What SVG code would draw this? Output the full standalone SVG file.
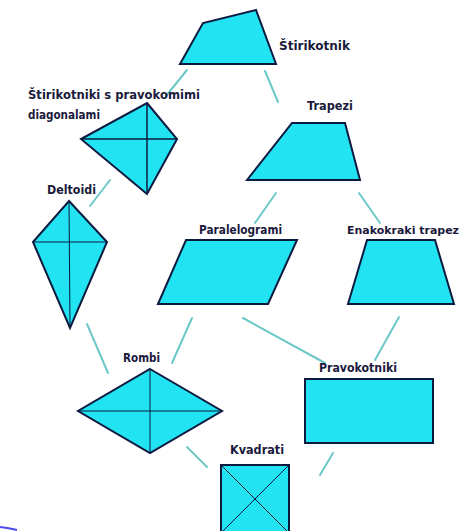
<svg xmlns="http://www.w3.org/2000/svg" width="465" height="531" viewBox="0 0 465 531">
<style>
.s{fill:#22e3f2;stroke:#0d1a40;stroke-width:2;stroke-linejoin:miter}
.d{stroke:#0d1a40;stroke-width:1;fill:none}
.c line{stroke:#6cc8c8;stroke-width:2;stroke-linecap:round}
text{font-family:"DejaVu Sans","Liberation Sans",sans-serif;font-size:12px;font-weight:bold;fill:#1a1a3c}
</style>
<rect width="465" height="531" fill="#ffffff"/>
<g class="c" id="connectors">
<line x1="187" y1="70" x2="166" y2="96"/>
<line x1="265" y1="71" x2="278" y2="102"/>
<line x1="110" y1="180" x2="90" y2="206"/>
<line x1="276" y1="193" x2="255" y2="223"/>
<line x1="359" y1="193" x2="380" y2="223"/>
<line x1="87" y1="324" x2="108" y2="373"/>
<line x1="192" y1="318" x2="172" y2="363"/>
<line x1="243" y1="318" x2="325" y2="363"/>
<line x1="399" y1="317" x2="375" y2="360"/>
<line x1="187" y1="447" x2="207" y2="467"/>
<line x1="333" y1="453" x2="320" y2="475"/>
</g>
<g id="stirikotnik">
<polygon class="s" points="180,64 203,23 256,10 276,64"/>
<text x="279" y="50" textLength="71" lengthAdjust="spacingAndGlyphs">Štirikotnik</text>
</g>
<g id="pravokotne-diagonale">
<text x="28" y="99" textLength="172" lengthAdjust="spacingAndGlyphs">Štirikotniki s pravokomimi</text>
<text x="28" y="119" textLength="72" lengthAdjust="spacingAndGlyphs">diagonalami</text>
<polygon class="s" points="147,103 177,139 147,194 81,139"/>
<line class="d" x1="81" y1="139" x2="177" y2="139" style="stroke-width:1.5"/>
<line class="d" x1="147" y1="103" x2="147" y2="194" style="stroke-width:1.5"/>
</g>
<g id="trapezi">
<text x="307" y="110" textLength="46" lengthAdjust="spacingAndGlyphs">Trapezi</text>
<polygon class="s" points="247,180 292,123 345,123 360,180"/>
</g>
<g id="deltoidi">
<text x="47" y="194" textLength="49" lengthAdjust="spacingAndGlyphs">Deltoidi</text>
<polygon class="s" points="69,201 107,242 70,328 33,242"/>
<line class="d" x1="33" y1="242" x2="107" y2="242"/>
<line class="d" x1="69" y1="201" x2="70" y2="328"/>
</g>
<g id="paralelogrami">
<text x="199" y="234" textLength="83" lengthAdjust="spacingAndGlyphs">Paralelogrami</text>
<polygon class="s" points="158,304 186,240 297,240 268,304"/>
</g>
<g id="enakokraki-trapez">
<text x="347" y="234" style="font-size:10.5px" textLength="112" lengthAdjust="spacingAndGlyphs">Enakokraki trapez</text>
<polygon class="s" points="348,304 367,240 435,240 454,304"/>
</g>
<g id="rombi">
<text x="123" y="362" textLength="37" lengthAdjust="spacingAndGlyphs">Rombi</text>
<polygon class="s" points="150,369 222,411 150,453 78,411"/>
<line class="d" x1="78" y1="411" x2="222" y2="411"/>
<line class="d" x1="150" y1="369" x2="150" y2="453"/>
</g>
<g id="pravokotniki">
<text x="319" y="372" textLength="78" lengthAdjust="spacingAndGlyphs">Pravokotniki</text>
<rect class="s" x="305" y="379" width="128" height="64"/>
</g>
<g id="kvadrati">
<text x="230" y="454" textLength="54" lengthAdjust="spacingAndGlyphs">Kvadrati</text>
<rect class="s" x="221" y="465" width="68" height="68"/>
<line class="d" x1="221" y1="465" x2="289" y2="533"/>
<line class="d" x1="289" y1="465" x2="221" y2="533"/>
</g>
<path d="M0,527 Q9,528 17,530" fill="none" stroke="#4a4af0" stroke-width="2"/>
</svg>
